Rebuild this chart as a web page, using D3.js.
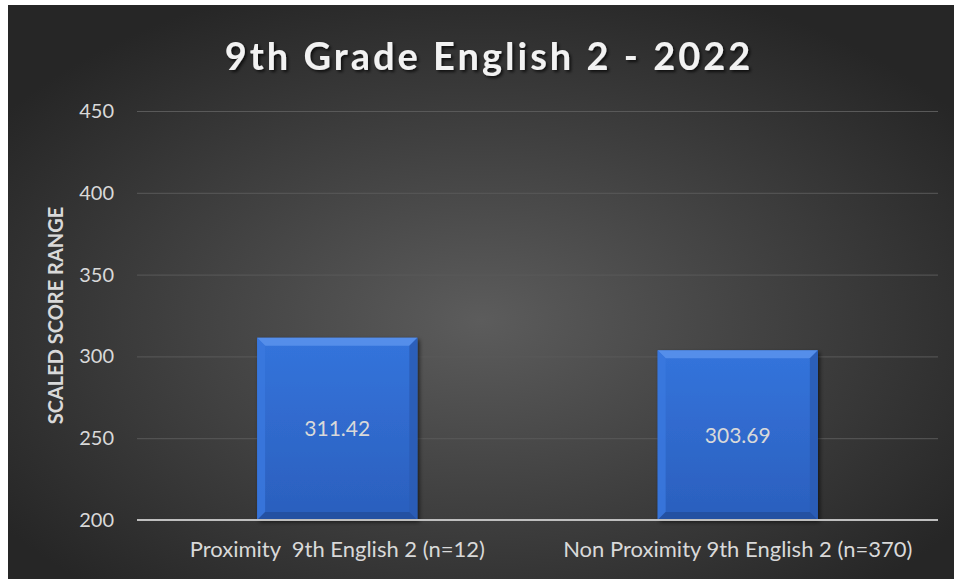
<!DOCTYPE html>
<html>
<head>
<meta charset="utf-8">
<script src="https://cdn.jsdelivr.net/npm/d3@7"></script>
<style>
  html, body { margin: 0; padding: 0; background: #fff; }
  svg { display: block; }
  text { font-family: Lato, "Open Sans", sans-serif; }
</style>
</head>
<body>
<div id="viz"></div>
<script>
// chart data
const categories = ['Proximity  9th English 2 (n=12)', 'Non Proximity 9th English 2 (n=370)'];
const scores = [311.42, 303.69];
const yTicks = [200, 250, 300, 350, 400, 450];
const chartTitle = '9th Grade English 2 - 2022';
const yTitle = 'SCALED SCORE RANGE';

const width = 958;
const height = 579;

const svg = d3.select('#viz').append('svg')
  .attr('width', width)
  .attr('height', height);

const defs = svg.append('defs');

const bg = defs.append('radialGradient')
  .attr('id', 'bg')
  .attr('cx', '50%').attr('cy', '55%').attr('r', '62%');
bg.append('stop').attr('offset', '0%').attr('stop-color', '#5c5c5c');
bg.append('stop').attr('offset', '100%').attr('stop-color', '#262626');

const barGrad = defs.append('linearGradient')
  .attr('id', 'barFill')
  .attr('x1', 0).attr('y1', 0).attr('x2', 0).attr('y2', 1);
barGrad.append('stop').attr('offset', '0%').attr('stop-color', '#3474dc');
barGrad.append('stop').attr('offset', '100%').attr('stop-color', '#2b5fbd');

const shadow = defs.append('filter').attr('id', 'shadow')
  .attr('x', '-10%').attr('y', '-10%').attr('width', '130%').attr('height', '130%');
shadow.append('feDropShadow')
  .attr('dx', 2).attr('dy', 2).attr('stdDeviation', 2)
  .attr('flood-color', '#000').attr('flood-opacity', 0.6);

const titleShadow = defs.append('filter').attr('id', 'tshadow');
titleShadow.append('feDropShadow')
  .attr('dx', 2).attr('dy', 2).attr('stdDeviation', 1.5)
  .attr('flood-color', '#000').attr('flood-opacity', 0.7);

// background panel
svg.append('rect')
  .attr('x', 8).attr('y', 5)
  .attr('width', 946).attr('height', height - 5)
  .attr('fill', 'url(#bg)');

const margin = { left: 137, right: 20, top: 111, bottom: 59 };

const x = d3.scaleBand()
  .domain(categories)
  .range([margin.left, width - margin.right])
  .paddingInner(0.6)
  .paddingOuter(0.3);

const y = d3.scaleLinear()
  .domain([200, 450])
  .range([height - margin.bottom, margin.top]);

// gridlines
svg.append('g')
  .selectAll('line')
  .data(yTicks.slice(1))
  .join('line')
  .attr('x1', margin.left)
  .attr('x2', width - margin.right)
  .attr('y1', d => y(d) + 0.5)
  .attr('y2', d => y(d) + 0.5)
  .attr('stroke', '#595959')
  .attr('stroke-width', 1);

// y tick labels
svg.append('g')
  .selectAll('text')
  .data(yTicks)
  .join('text')
  .attr('x', 114)
  .attr('y', d => y(d))
  .attr('dy', '0.35em')
  .attr('text-anchor', 'end')
  .attr('fill', '#d9d9d9')
  .style('font-size', '20px')
  .text(d => d);

// bars
const bev = 8;
const bar = svg.append('g')
  .selectAll('g')
  .data(scores)
  .join('g');

bar.append('rect')
  .attr('x', (d, i) => x(categories[i]))
  .attr('y', d => y(d))
  .attr('width', x.bandwidth())
  .attr('height', d => y(200) - y(d))
  .attr('fill', 'url(#barFill)')
  .attr('filter', 'url(#shadow)');

function bevel(d, i, side) {
  const x0 = x(categories[i]), x1 = x0 + x.bandwidth();
  const y0 = y(d), y1 = y(200);
  if (side === 'top') return [[x0, y0], [x1, y0], [x1 - bev, y0 + bev], [x0 + bev, y0 + bev]];
  if (side === 'left') return [[x0, y0], [x0 + bev, y0 + bev], [x0 + bev, y1 - bev], [x0, y1]];
  if (side === 'right') return [[x1, y0], [x1 - bev, y0 + bev], [x1 - bev, y1 - bev], [x1, y1]];
  return [[x0, y1], [x0 + bev, y1 - bev], [x1 - bev, y1 - bev], [x1, y1]];
}
const bevelFill = { top: '#5b93ec', left: '#3a78de', right: '#2a5cb4', bottom: '#234f9e' };
['top', 'left', 'right', 'bottom'].forEach(side => {
  bar.append('polygon')
    .attr('points', (d, i) => bevel(d, i, side).join(' '))
    .attr('fill', bevelFill[side])
    .attr('opacity', 0.85);
});

bar.append('text')
  .attr('x', (d, i) => x(categories[i]) + x.bandwidth() / 2)
  .attr('y', d => (y(d) + y(200)) / 2)
  .attr('dy', '0.35em')
  .attr('text-anchor', 'middle')
  .attr('fill', '#d9d9d9')
  .style('font-size', '21px')
  .text(d => d.toFixed(2));

// baseline
svg.append('line')
  .attr('x1', margin.left)
  .attr('x2', width - margin.right)
  .attr('y1', y(200))
  .attr('y2', y(200))
  .attr('stroke', '#bfbfbf')
  .attr('stroke-width', 2);

// category labels
svg.append('g')
  .selectAll('text')
  .data(categories)
  .join('text')
  .attr('x', d => x(d) + x.bandwidth() / 2)
  .attr('y', 557)
  .attr('text-anchor', 'middle')
  .attr('fill', '#d9d9d9')
  .style('font-size', '22px')
  .style('white-space', 'pre')
  .text(d => d);

// axis title
svg.append('text')
  .attr('transform', `translate(63,${(y(200) + y(450)) / 2}) rotate(-90)`)
  .attr('text-anchor', 'middle')
  .attr('fill', '#d9d9d9')
  .style('font-size', '20px')
  .style('font-weight', 'bold')
  .text(yTitle);

// chart title
svg.append('text')
  .attr('x', 489)
  .attr('y', 70)
  .attr('text-anchor', 'middle')
  .attr('fill', '#f2f2f2')
  .attr('filter', 'url(#tshadow)')
  .style('font-size', '38px')
  .style('font-weight', 'bold')
  .style('letter-spacing', '3px')
  .text(chartTitle);
</script>
</body>
</html>
